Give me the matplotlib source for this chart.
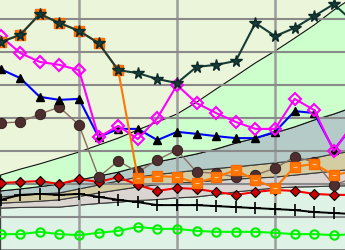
import matplotlib
matplotlib.use('Agg')
import matplotlib.pyplot as plt
import numpy as np

# x positions (grid every 5)
x = np.arange(1, 20)

# stacked background layers (bottom -> top)
layer_mint = [12.7, 12.9, 13.0, 13.0, 13.6, 14.1, 14.5, 15.0, 15.3, 15.8, 16.1, 16.8, 17.6, 18.2, 18.8, 19.1, 19.2, 19.4, 19.5]
layer_pink = [1.5, 1.6, 1.8, 2.2, 2.6, 3.2, 3.7, 4.1, 4.5, 4.5, 4.5, 4.3, 3.9, 3.6, 3.3, 3.6, 4.1, 4.5, 5.0]
layer_tan = [1.9, 2.0, 2.2, 2.1, 2.3, 2.4, 2.7, 3.0, 3.1, 3.2, 3.6, 3.6, 3.7, 4.0, 4.3, 4.3, 4.6, 5.2, 5.5]
layer_slate = [1.8, 2.0, 2.2, 2.7, 2.7, 2.7, 2.7, 3.1, 3.8, 4.4, 4.9, 5.9, 7.2, 8.1, 9.1, 10.3, 11.5, 12.1, 13.3]
layer_green = [4.8, 6.0, 6.9, 7.9, 8.5, 9.4, 10.3, 11.2, 12.1, 13.3, 15.7, 18.2, 20.3, 22.8, 24.8, 26.9, 28.8, 31.5, 33.4]
layer_colors = ['#dff2e6', '#dbd5d1', '#d4cda4', '#b4cbc8', '#ccffcc']

# line series
stars = [63.0, 65.2, 71.5, 68.8, 66.4, 62.7, 54.5, 53.6, 51.8, 50.6, 55.5, 56.1, 57.3, 68.8, 64.8, 67.3, 70.9, 74.5, 69.1]
squares = [63.0, 65.2, 71.5, 68.8, 66.4, 62.7, 54.5, 21.8, 22.4, 22.1, 20.3, 22.1, 24.2, 21.2, 18.8, 25.2, 26.1, 22.7, 23.9]
diamonds_mag = [64.8, 59.7, 57.0, 56.1, 54.5, 34.2, 37.6, 33.6, 40.0, 50.0, 44.5, 41.5, 38.8, 36.7, 36.7, 45.8, 42.4, 30.0, 38.5]
triangles = [54.8, 52.1, 46.4, 45.5, 45.8, 34.2, 36.7, 36.7, 33.3, 35.8, 35.2, 34.5, 33.9, 33.9, 35.8, 42.1, 41.5, 30.3, 37.9]
circles = [38.5, 38.8, 41.2, 43.3, 37.9, 22.1, 27.0, 23.6, 27.3, 30.3, 23.6, 23.3, 22.1, 22.7, 24.8, 28.2, 26.7, 19.7, 21.8]
diamonds_red = [20.3, 20.6, 20.9, 20.0, 21.5, 20.6, 22.1, 19.7, 17.9, 18.8, 18.5, 17.6, 16.7, 17.6, 18.2, 17.9, 17.0, 16.7, 16.7]
pluses = [15.2, 16.7, 17.0, 16.7, 17.0, 16.1, 15.2, 14.5, 13.6, 13.6, 13.6, 13.3, 13.0, 12.7, 12.4, 12.1, 11.5, 11.2, 10.9]
rings = [4.8, 4.8, 5.5, 4.8, 4.5, 5.2, 5.8, 7.0, 6.4, 6.4, 5.8, 5.5, 5.5, 5.5, 5.2, 4.8, 4.8, 4.5, 4.8]

fig = plt.figure(figsize=(3.45, 2.5), dpi=100)
ax = fig.add_axes([0, 0, 1, 1])
ax.set_facecolor('#ebf5d9')

polys = ax.stackplot(x, layer_mint, layer_pink, layer_tan, layer_slate, layer_green,
                     colors=layer_colors, zorder=0.2)
for p in polys:
    p.set_edgecolor('#3a3a3a')
    p.set_linewidth(0.8)
polys[-1].set_edgecolor('#111111')

ax.set_xticks([5, 10, 15])
ax.set_yticks(range(10, 80, 10))
ax.grid(True, axis='y', color='#8a8a8a', linewidth=1.5, zorder=0.5)
ax.grid(True, axis='x', color='#9c9c9c', linewidth=1.8, zorder=0.5)
ax.set_axisbelow(True)
ax.tick_params(length=0, labelbottom=False, labelleft=False)
for s in ax.spines.values():
    s.set_visible(False)

ax.plot(x, rings, color='#00ff00', lw=1.5, marker='o', ms=6, mfc='none', mec='#00ee00', mew=1.5)
ax.plot(x, pluses, color='black', lw=1.4, marker='+', ms=8, mew=1.2)
ax.plot(x, diamonds_red, color='#ff0000', lw=1.5, marker='D', ms=5, mfc='#cc0000', mec='black', mew=0.8)
ax.plot(x, circles, color='#8a6e62', lw=1, marker='o', ms=7.5, mfc='#4e2e2e', mec='#2a1a1a', mew=0.6)
ax.plot(x, triangles, color='#0000ff', lw=1.5, marker='^', ms=5.5, mfc='black', mec='black')
ax.plot(x, diamonds_mag, color='#ff00ff', lw=1.5, marker='D', ms=6, mfc='none', mec='#ff00ff', mew=1.5)
ax.plot(x, squares, color='#ff7700', lw=1.5, marker='s', ms=7, mfc='#ff7700', mec='#ff6a00')
ax.plot(x, squares, ls='none', marker='_', ms=3, mec='#ffc08a', mew=0.8)
ax.plot(x, stars, color='#173c38', lw=1.5, marker='*', ms=8.5, mfc='#173c38', mec='#0e2a28')

ax.set_xlim(0.969, 18.57)
ax.set_ylim(0, 75.76)

fig.savefig('out.png', dpi=100)
